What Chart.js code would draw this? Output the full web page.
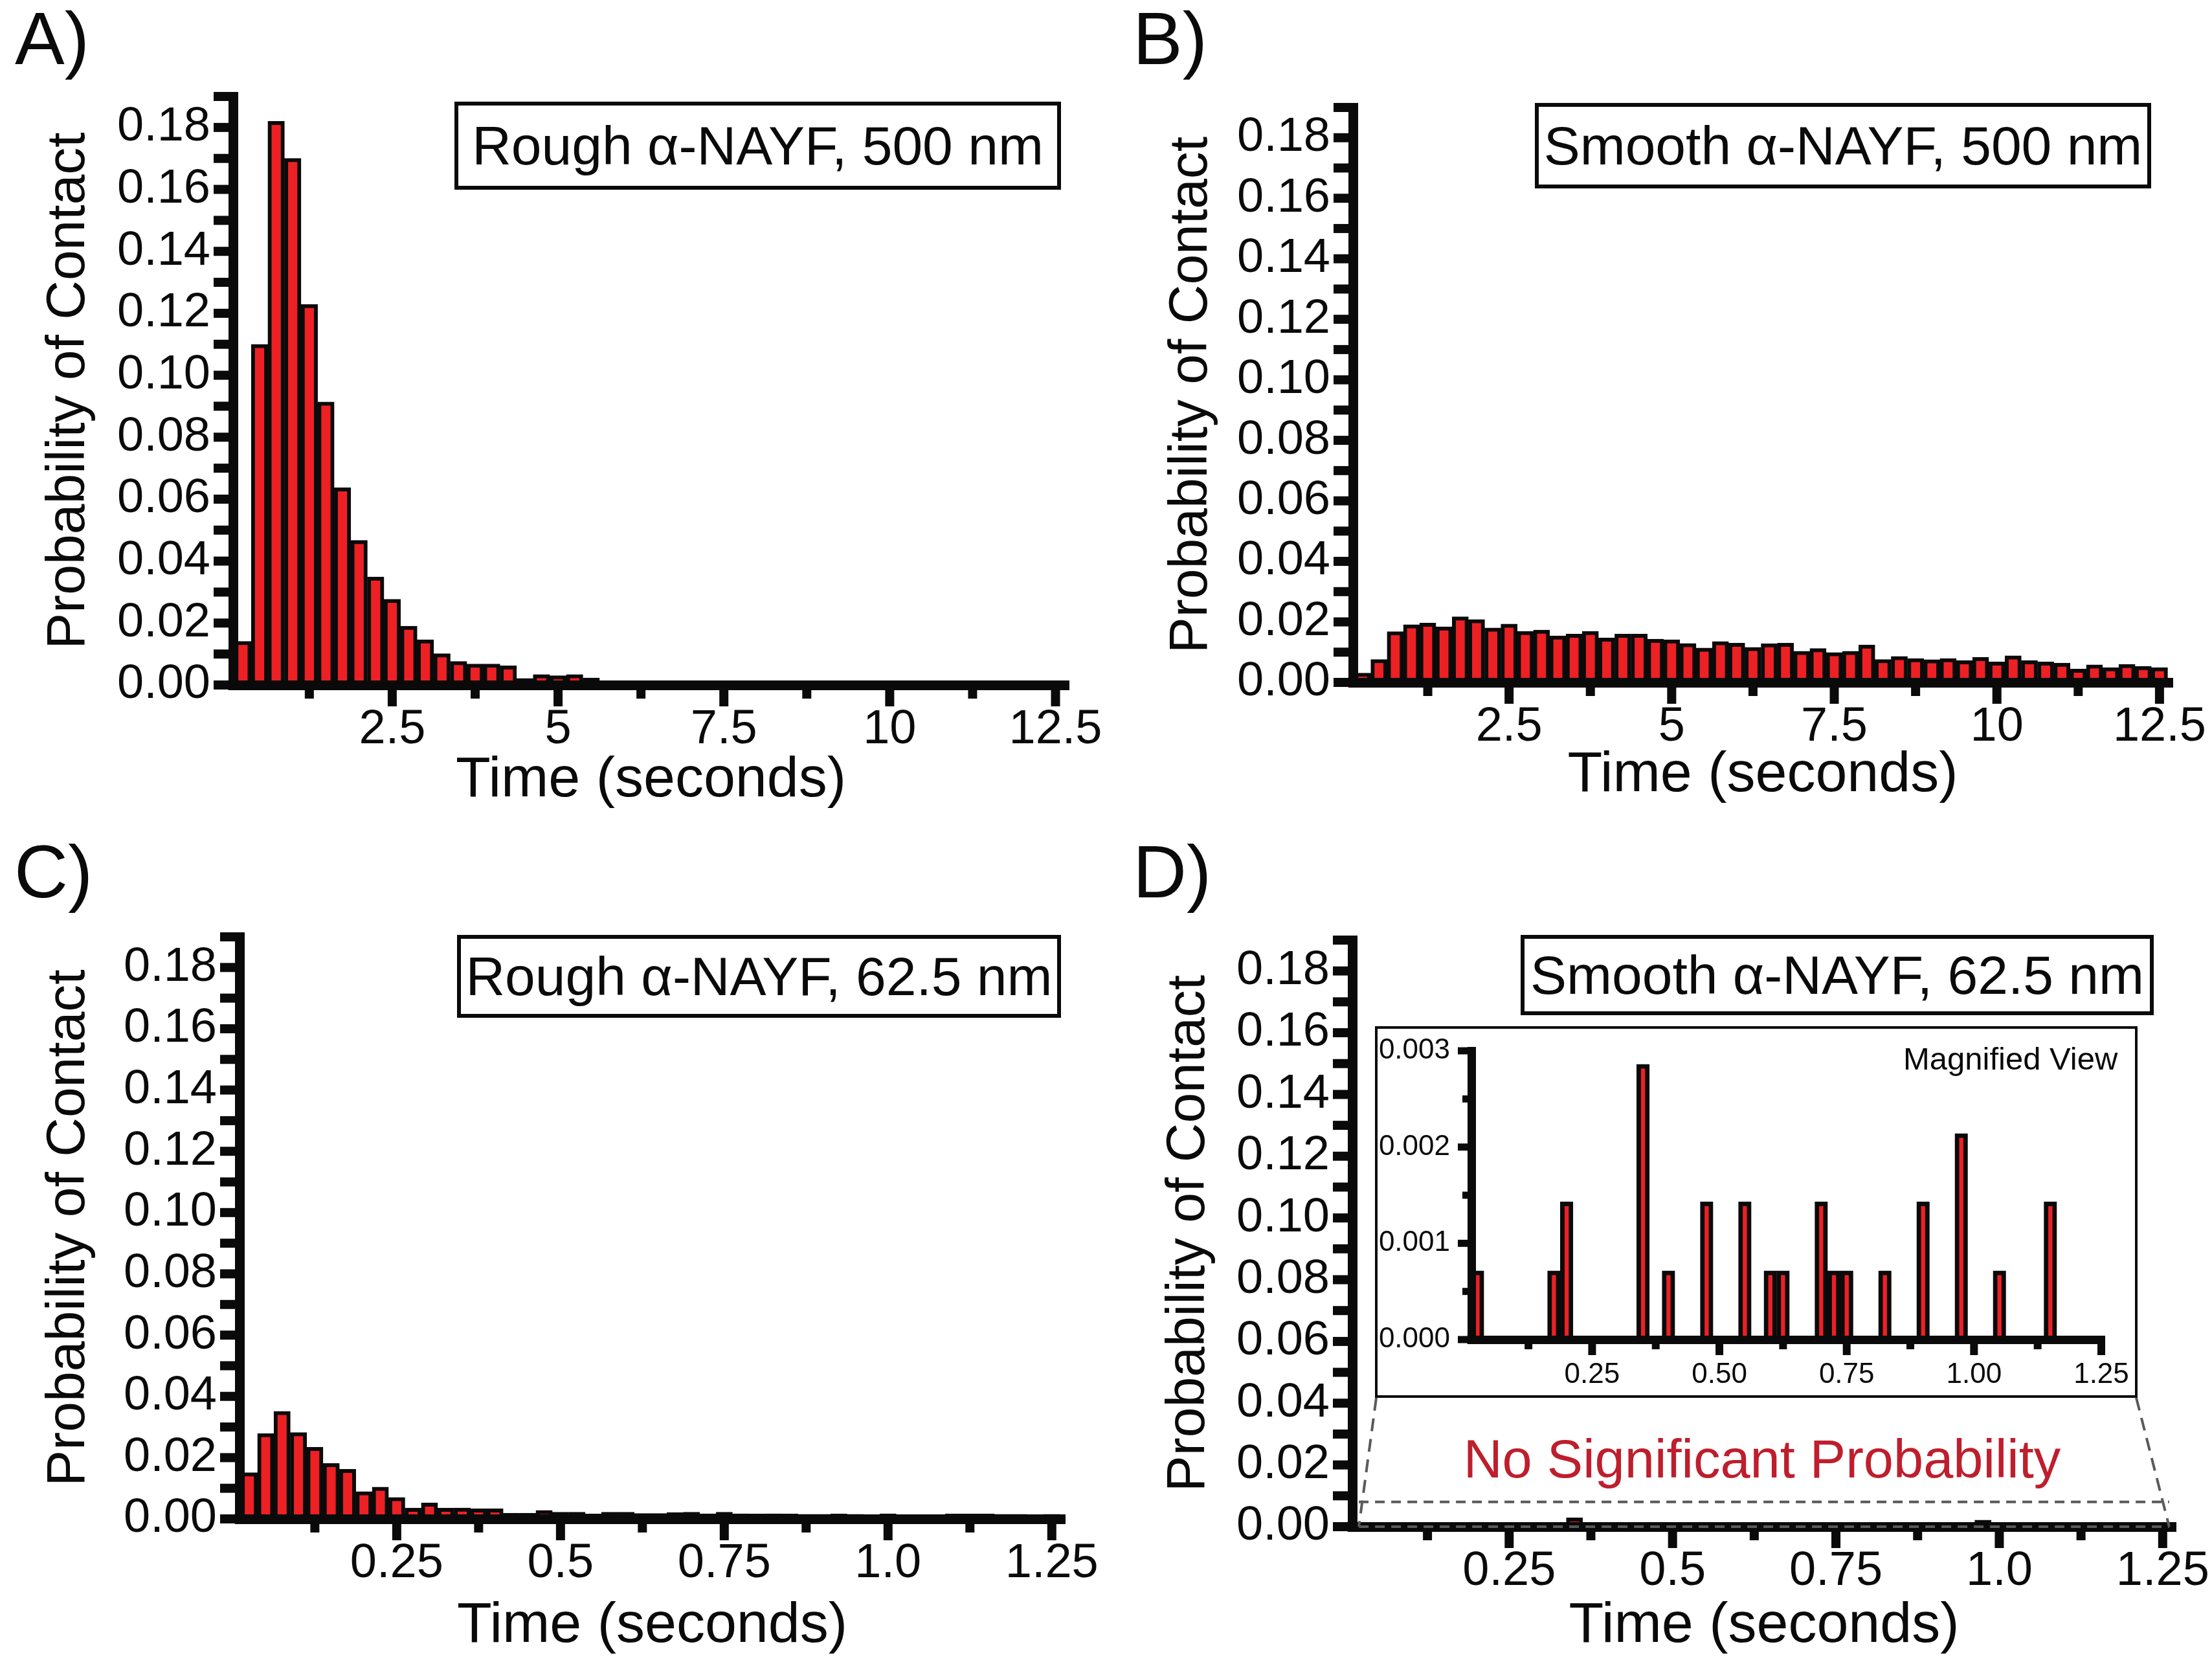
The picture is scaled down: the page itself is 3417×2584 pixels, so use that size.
<!DOCTYPE html>
<html>
<head>
<meta charset="utf-8">
<script src="https://cdn.jsdelivr.net/npm/chart.js@4.4.1/dist/chart.umd.min.js"></script>
<style>
  html, body { margin: 0; padding: 0; background: #fff; }
  body { width: 3417px; height: 2584px; position: relative; overflow: hidden;
         font-family: 'Liberation Sans', Arial, Helvetica, sans-serif; color: #0a0a0a; }
  .panel { position: absolute; display: block; }
  .tag { position: absolute; font-size: 115px; line-height: 1; }
  .box { position: absolute; box-sizing: border-box; border: 6px solid #0a0a0a; background: #fff;
         display: flex; align-items: center; justify-content: center;
         font-size: 84px; line-height: 1; white-space: nowrap; }
  .inset { position: absolute; box-sizing: border-box; border: 4px solid #0a0a0a; background: #fff; }
  .inset canvas { display: block; }
  .note { position: absolute; line-height: 1; white-space: nowrap; }
</style>
</head>
<body>
<canvas id="chartA" class="panel" width="1708" height="1292" style="left:0;top:0;width:1708px;height:1292px"></canvas>
<canvas id="chartB" class="panel" width="1709" height="1292" style="left:1708px;top:0;width:1709px;height:1292px"></canvas>
<canvas id="chartC" class="panel" width="1708" height="1292" style="left:0;top:1292px;width:1708px;height:1292px"></canvas>
<canvas id="chartD" class="panel" width="1709" height="1292" style="left:1708px;top:1292px;width:1709px;height:1292px"></canvas>

<div class="inset" style="left:2124px;top:1585px;width:1178px;height:574px">
  <canvas id="chartInset" width="1170" height="566" style="width:1170px;height:566px"></canvas>
</div>

<div class="tag" style="left:23px;top:2px">A)</div>
<div class="tag" style="left:1750px;top:2px">B)</div>
<div class="tag" style="left:22px;top:1289px">C)</div>
<div class="tag" style="left:1750px;top:1289px">D)</div>

<div class="box" style="left:702px;top:157px;width:937px;height:136px">Rough α-NAYF, 500 nm</div>
<div class="box" style="left:2371px;top:159px;width:952px;height:132px">Smooth α-NAYF, 500 nm</div>
<div class="box" style="left:706px;top:1444px;width:933px;height:128px">Rough α-NAYF, 62.5 nm</div>
<div class="box" style="left:2349px;top:1444px;width:978px;height:124px">Smooth α-NAYF, 62.5 nm</div>

<div class="note" style="left:2940px;top:1611px;font-size:49px">Magnified View</div>
<div class="note" style="left:2222px;top:2212px;width:1000px;text-align:center;font-size:83px;color:#BE1E2D">No Significant Probability</div>

<script>
// --- bin centres (seconds) ---
const binsLong = [0.25, 0.5, 0.75, 1, 1.25, 1.5, 1.75, 2, 2.25, 2.5,
  2.75, 3, 3.25, 3.5, 3.75, 4, 4.25, 4.5, 4.75, 5,
  5.25, 5.5, 5.75, 6, 6.25, 6.5, 6.75, 7, 7.25, 7.5,
  7.75, 8, 8.25, 8.5, 8.75, 9, 9.25, 9.5, 9.75, 10,
  10.25, 10.5, 10.75, 11, 11.25, 11.5, 11.75, 12, 12.25, 12.5];
const binsShort = [0.025, 0.05, 0.075, 0.1, 0.125, 0.15, 0.175, 0.2, 0.225, 0.25,
  0.275, 0.3, 0.325, 0.35, 0.375, 0.4, 0.425, 0.45, 0.475, 0.5,
  0.525, 0.55, 0.575, 0.6, 0.625, 0.65, 0.675, 0.7, 0.725, 0.75,
  0.775, 0.8, 0.825, 0.85, 0.875, 0.9, 0.925, 0.95, 0.975, 1,
  1.025, 1.05, 1.075, 1.1, 1.125, 1.15, 1.175, 1.2, 1.225, 1.25];

// --- probability of contact per bin ---
const roughLong = [0.0141, 0.110, 0.182, 0.170, 0.1229, 0.0914, 0.0637, 0.0467, 0.0349, 0.0277,
  0.0190, 0.0146, 0.0101, 0.0076, 0.0068, 0.0068, 0.0062, 0.0021, 0.0034, 0.0030,
  0.0034, 0.0023, 0.0004, 0.0004, 0.0008, 0.0006, 0.0003, 0.0011, 0.0004, 0.0004,
  0.0002, 0.0002, 0.0001, 0.0002, 0.0001, 0.0001, 0.0002, 0.0001, 0.0001, 0.0001,
  0.0002, 0.0001, 0.0001, 0.0001, 0.0001, 0.0002, 0.0001, 0.0001, 0.0001, 0.0001];
const smoothLong = [0.0031, 0.0076, 0.0168, 0.0191, 0.0196, 0.0184, 0.0217, 0.0208, 0.0180, 0.0193,
  0.0169, 0.0173, 0.0154, 0.0160, 0.0169, 0.0147, 0.0160, 0.0160, 0.0143, 0.0141,
  0.0129, 0.0114, 0.0135, 0.0130, 0.0116, 0.0128, 0.0130, 0.0103, 0.0112, 0.0099,
  0.0103, 0.0124, 0.0076, 0.0086, 0.0079, 0.0075, 0.0079, 0.0072, 0.0083, 0.0068,
  0.0088, 0.0072, 0.0068, 0.0064, 0.0044, 0.0058, 0.0049, 0.0060, 0.0053, 0.0049];
const roughShort = [0.0151, 0.0279, 0.0351, 0.0282, 0.0234, 0.0181, 0.0162, 0.0089, 0.0104, 0.0070,
  0.0035, 0.0052, 0.0035, 0.0036, 0.0033, 0.0033, 0.0019, 0.0019, 0.0028, 0.0022,
  0.0022, 0.0016, 0.0022, 0.0022, 0.0018, 0.0018, 0.0021, 0.0022, 0.0017, 0.0022,
  0.0017, 0.0016, 0.0017, 0.0016, 0.0015, 0.0015, 0.0016, 0.0015, 0.0014, 0.0017,
  0.0014, 0.0014, 0.0014, 0.0016, 0.0016, 0.0016, 0.0015, 0.0015, 0.0014, 0.0015];
const smoothShort = [0.000714, 0, 0, 0, 0, 0, 0.000714, 0.00143, 0, 0,
  0, 0, 0, 0.00286, 0, 0.000714, 0, 0, 0.00143, 0,
  0, 0.00143, 0, 0.000714, 0.000714, 0, 0, 0.00143, 0.000714, 0.000714,
  0, 0, 0.000714, 0, 0, 0.00143, 0, 0, 0.00214, 0,
  0, 0.000714, 0, 0, 0, 0.00143, 0, 0, 0, 0];

// --- ticks ---
const xTicksLong = [1.25, 2.5, 3.75, 5, 6.25, 7.5, 8.75, 10, 11.25, 12.5];
const xLabelsLong = ['', '2.5', '', '5', '', '7.5', '', '10', '', '12.5'];
const xTicksShort = [0.125, 0.25, 0.375, 0.5, 0.625, 0.75, 0.875, 1, 1.125, 1.25];
const xLabelsShort = ['', '0.25', '', '0.5', '', '0.75', '', '1.0', '', '1.25'];
const xLabelsInset = ['', '0.25', '', '0.50', '', '0.75', '', '1.00', '', '1.25'];
const yTicksMain = [0, 0.01, 0.02, 0.03, 0.04, 0.05, 0.06, 0.07, 0.08, 0.09,
  0.10, 0.11, 0.12, 0.13, 0.14, 0.15, 0.16, 0.17, 0.18, 0.19];
const yLabelsMain = ['0.00', '', '0.02', '', '0.04', '', '0.06', '', '0.08', '',
  '0.10', '', '0.12', '', '0.14', '', '0.16', '', '0.18', ''];
const yTicksInset = [0, 0.0005, 0.001, 0.0015, 0.002, 0.0025, 0.003];
const yLabelsInset = ['0.000', '', '0.001', '', '0.002', '', '0.003'];

// dashed guide around the near-zero strip of panel D
const guideX = [0.02, 1.26];
const guideY = 0.008;

const INK = '#0a0a0a';
const BAR_RED = '#ED2024';

Chart.defaults.font.family = "'Liberation Sans', Arial, Helvetica, sans-serif";
Chart.defaults.color = INK;

// tick marks: labelled ticks long, unlabelled short
const tickMarks = {
  id: 'tickMarks',
  afterDraw(chart, args, opts) {
    const ctx = chart.ctx;
    const area = chart.chartArea;
    ctx.save();
    ctx.strokeStyle = INK;
    ctx.lineCap = 'butt';
    ['x', 'y'].forEach(id => {
      const scale = chart.scales[id];
      const o = opts[id];
      if (!scale || !o) return;
      ctx.lineWidth = o.width;
      scale.ticks.forEach(t => {
        const len = t.label ? o.major : o.minor;
        const p = scale.getPixelForValue(t.value);
        ctx.beginPath();
        if (id === 'x') { ctx.moveTo(p, area.bottom); ctx.lineTo(p, area.bottom + len); }
        else { ctx.moveTo(area.left, p); ctx.lineTo(area.left - len, p); }
        ctx.stroke();
      });
    });
    const w = opts.corner;
    ctx.fillStyle = INK;
    ctx.fillRect(area.left - w / 2, area.bottom - w / 2, w, w);
    ctx.restore();
  }
};

// dashed box + lines joining it to the inset
const zoomGuide = {
  id: 'zoomGuide',
  afterDraw(chart, args, o) {
    if (!o.on) return;
    const { ctx, scales: { x, y } } = chart;
    const x0 = x.getPixelForValue(guideX[0]);
    const x1 = x.getPixelForValue(guideX[1]);
    const y0 = y.getPixelForValue(0);
    const y1 = y.getPixelForValue(guideY);
    ctx.save();
    ctx.strokeStyle = '#5a5a5a';
    ctx.lineWidth = 4;
    ctx.setLineDash([15, 10]);
    ctx.beginPath();
    ctx.moveTo(x0, y1); ctx.lineTo(x1, y1);
    ctx.moveTo(x0, y0); ctx.lineTo(x1, y0);
    ctx.stroke();
    ctx.setLineDash([20, 12]);
    ctx.beginPath();
    ctx.moveTo(o.corners[0][0], o.corners[0][1]); ctx.lineTo(x0, y0);
    ctx.moveTo(o.corners[1][0], o.corners[1][1]); ctx.lineTo(x1, y0);
    ctx.stroke();
    ctx.restore();
  }
};

function histogram(id, bins, values, c) {
  const title = (text, size, pad) => text
    ? { display: true, text: text, color: INK, font: { size: size, lineHeight: 1 }, padding: { top: pad, bottom: pad } }
    : { display: false };
  return new Chart(document.getElementById(id), {
    type: 'bar',
    data: {
      datasets: [{
        data: bins.map((x, i) => ({ x: x, y: values[i] })),
        backgroundColor: BAR_RED,
        borderColor: INK,
        borderWidth: c.barBorder,
        borderSkipped: 'bottom',
        categoryPercentage: 1,
        barPercentage: 1
      }]
    },
    options: {
      responsive: false,
      animation: false,
      devicePixelRatio: 1,
      layout: { padding: { top: c.top, right: c.right, bottom: 0, left: 0 } },
      plugins: {
        legend: { display: false },
        tooltip: { enabled: false },
        tickMarks: c.marks,
        zoomGuide: c.guide || { on: false }
      },
      scales: {
        x: {
          type: 'linear', min: c.xMin, max: c.xMax, offset: false,
          afterBuildTicks: s => { s.ticks = c.xTicks.map(v => ({ value: v })); },
          afterFit: s => { s.height = c.xHeight; },
          grid: { display: false, offset: false, drawTicks: true, tickLength: c.marks.x.major },
          border: { display: true, color: INK, width: c.axisWidth, z: 1 },
          ticks: { autoSkip: false, maxRotation: 0, padding: c.xPad, color: INK,
                   font: { size: c.tickSize, lineHeight: 1 }, callback: (v, i) => c.xLabels[i] },
          title: title(c.xTitle, 88, c.xTitlePad)
        },
        y: {
          min: 0, max: c.yMax,
          afterBuildTicks: s => { s.ticks = c.yTicks.map(v => ({ value: v })); },
          afterFit: s => { s.width = c.yWidth; },
          grid: { display: false, drawTicks: true, tickLength: c.marks.y.major },
          border: { display: true, color: INK, width: c.axisWidth, z: 1 },
          ticks: { autoSkip: false, padding: c.yPad, color: INK,
                   font: { size: c.tickSize, lineHeight: 1 }, callback: (v, i) => c.yLabels[i] },
          title: title(c.yTitle, 84, c.yTitlePad)
        }
      }
    },
    plugins: [tickMarks, zoomGuide]
  });
}

const mainMarks = { x: { major: 33, minor: 21, width: 14 }, y: { major: 30, minor: 30, width: 14 }, corner: 15 };
const common = {
  yMax: 0.19, yTicks: yTicksMain, yLabels: yLabelsMain,
  tickSize: 74, marks: mainMarks, axisWidth: 15, barBorder: 6, xPad: 0, yPad: 5,
  xTitle: 'Time (seconds)', yTitle: 'Probability of Contact'
};
const longAxis = { xMin: 0.1, xMax: 12.7, xTicks: xTicksLong, xLabels: xLabelsLong };
const shortAxis = { xMin: 0.01, xMax: 1.27, xTicks: xTicksShort, xLabels: xLabelsShort };

histogram('chartA', binsLong, roughLong, Object.assign({}, common, longAxis,
  { top: 149, right: 57, yWidth: 360, xHeight: 234, yTitlePad: 65, xTitlePad: 42 }));
histogram('chartB', binsLong, smoothLong, Object.assign({}, common, longAxis,
  { top: 166, right: 61, yWidth: 382, xHeight: 238, yTitlePad: 91, xTitlePad: 50 }));
histogram('chartC', binsShort, roughShort, Object.assign({}, common, shortAxis,
  { top: 155, right: 63, yWidth: 370, xHeight: 238, yTitlePad: 65, xTitlePad: 28 }));

// inset box corners in panel D canvas coordinates
const insetBox = { left: 2124, top: 1585, width: 1178, height: 574 };
const dOrigin = [1708, 1292];
histogram('chartD', binsShort, smoothShort, Object.assign({}, common, shortAxis,
  { top: 160, right: 56, yWidth: 381, xHeight: 226, yTitlePad: 87, xTitlePad: 28,
    guide: { on: true, corners: [
      [insetBox.left + 2 - dOrigin[0], insetBox.top + insetBox.height - dOrigin[1]],
      [insetBox.left + insetBox.width - 2 - dOrigin[0], insetBox.top + insetBox.height - dOrigin[1]]
    ] } }));

histogram('chartInset', binsShort, smoothShort, {
  xMin: 0.013, xMax: 1.257, xTicks: xTicksShort, xLabels: xLabelsInset,
  yMax: 0.003, yTicks: yTicksInset, yLabels: yLabelsInset,
  tickSize: 44, axisWidth: 13, barBorder: 7, xPad: 9, yPad: 12,
  marks: { x: { major: 24, minor: 15, width: 12 }, y: { major: 21, minor: 14, width: 11 }, corner: 13 },
  top: 31, right: 34, yWidth: 145, xHeight: 86
});
</script>
</body>
</html>
